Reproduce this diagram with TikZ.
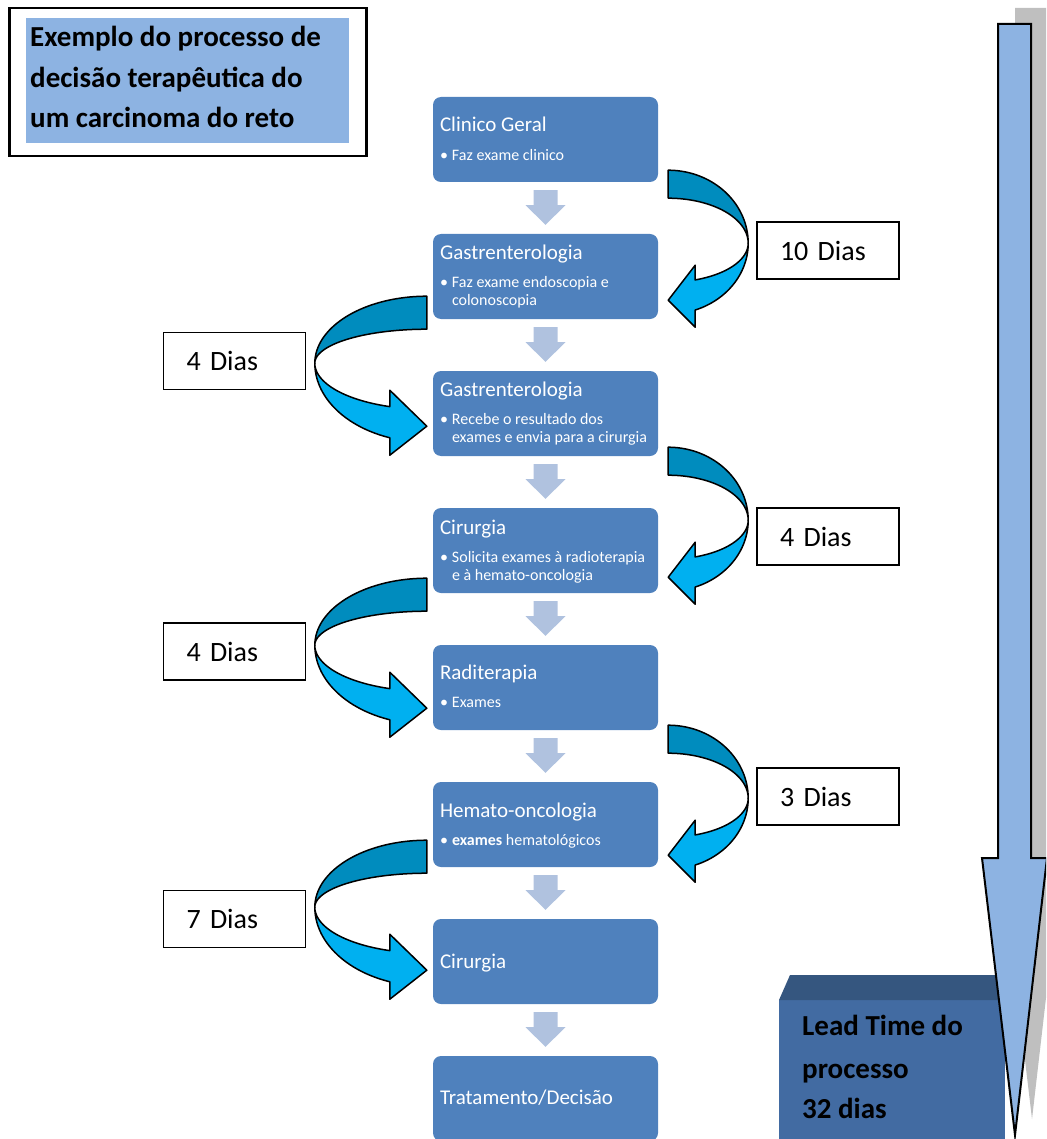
\documentclass[tikz,border=0pt]{standalone}
\usepackage{fontspec}
\setmainfont{Carlito}
\usetikzlibrary{calc}

\definecolor{boxblue}{HTML}{4F81BD}
\definecolor{paleblue}{HTML}{8DB3E2}
\definecolor{connblue}{HTML}{B0C2DF}
\definecolor{bandback}{HTML}{008CBE}
\definecolor{bandfront}{HTML}{00B0F0}
\definecolor{cubefront}{HTML}{426BA2}
\definecolor{cubetop}{HTML}{35567F}
\definecolor{shadowgray}{HTML}{BFBFBF}

\tikzset{
  proc/.style={fill=boxblue, rounded corners=8pt, minimum width=225pt,
    minimum height=85pt, inner sep=0pt},
  ptitle/.style={text=white, inner sep=0pt, anchor=base west,
    font=\fontsize{21}{25}\selectfont},
  pitem/.style={text=white, inner sep=0pt, anchor=base west,
    font=\fontsize{16}{18}\selectfont},
  daysbox/.style={draw=black, line width=1.8pt, fill=white,
    minimum width=142pt, minimum height=57pt, text width=96pt, align=left,
    inner sep=0pt, font=\fontsize{28}{34}\selectfont},
  headline/.style={inner sep=0pt, anchor=base west,
    font=\fontsize{29}{34}\selectfont\bfseries},
  band/.style={draw=black, line width=1.5pt, line join=round},
}

% block arrow between two process boxes
\newcommand{\downconn}[2]{%
  \fill[connblue] ($(#1.south)+(-12,8)$) -- ($(#1.south)+(12,8)$)
    -- ($(#1.south)+(12,23)$) -- ($(#1.south)+(20,23)$)
    -- ($(#2.north)+(0,-9)$)
    -- ($(#1.south)+(-20,23)$) -- ($(#1.south)+(-12,23)$) -- cycle;}

% curved ribbon arrow on the right side, turning back to the left
\newcommand{\loopright}[2]{%
  \begin{scope}[shift={($(#1.south east)+(10,#2)$)}]
    \filldraw[band, fill=bandback]
      plot[domain=90:0, samples=40] ({80*cos(\x)},{-73*sin(\x)})
      -- plot[domain=0:90, samples=40] ({80*cos(\x)},{-45*sin(\x)}) -- cycle;
    \filldraw[band, fill=bandfront]
      plot[domain=0:70.3, samples=40] ({80*cos(\x)},{39*sin(\x)})
      -- (27,22) -- (0,57) -- (27,84)
      -- plot[domain=70.3:0, samples=40] ({80*cos(\x)},{71*sin(\x)}) -- cycle;
  \end{scope}}

% curved ribbon arrow on the left side, turning back to the right
\newcommand{\loopleft}[2]{%
  \begin{scope}[shift={($(#1.south west)+(-6,#2)$)}]
    \filldraw[band, fill=bandback]
      plot[domain=90:0, samples=40] ({-112*cos(\x)},{-67*sin(\x)})
      -- plot[domain=0:90, samples=40] ({-112*cos(\x)},{-34*sin(\x)}) -- cycle;
    \filldraw[band, fill=bandfront]
      plot[domain=0:70.7, samples=40] ({-112*cos(\x)},{46*sin(\x)})
      -- (-37,27) -- (0,63) -- (-37,92)
      -- plot[domain=70.7:0, samples=40] ({-112*cos(\x)},{79*sin(\x)}) -- cycle;
  \end{scope}}

\begin{document}
\begin{tikzpicture}[x=1pt, y=-1pt]
  \path[use as bounding box] (0,0) rectangle (1046,1139);
  \clip (0,0) rectangle (1046,1139);

  % heading
  \node[draw=black, line width=2.5pt, minimum width=357pt, minimum height=148pt,
        anchor=north west, inner sep=0pt] (frame) at (8,7) {};
  \node[fill=paleblue, minimum width=323pt, minimum height=125pt,
        anchor=north west, inner sep=0pt] (headbg) at (26,18) {};
  \node[headline] (h1) at (30,47) {Exemplo do processo de};
  \node[headline] (h2) at (30,88) {decisão terapêutica do};
  \node[headline] (h3) at (30,128) {um carcinoma do reto};

  % process steps
  \node[proc] (b1) at (545.5,139.5) {};
  \node[proc] (b2) at (545.5,276.5) {};
  \node[proc] (b3) at (545.5,413.5) {};
  \node[proc] (b4) at (545.5,550.5) {};
  \node[proc] (b5) at (545.5,687.5) {};
  \node[proc] (b6) at (545.5,824.5) {};
  \node[proc] (b7) at (545.5,961.5) {};
  \node[proc] (b8) at (545.5,1098.5) {};

  \node[ptitle] (t1) at ($(b1.north west)+(7,35)$) {Clinico Geral};
  \node[pitem]  (i1) at ($(b1.north west)+(7,64)$) {\makebox[12pt][l]{•}Faz exame clinico};

  \node[ptitle] (t2) at ($(b2.north west)+(7,26)$) {Gastrenterologia};
  \node[pitem]  (i2a) at ($(b2.north west)+(7,54)$) {\makebox[12pt][l]{•}Faz exame endoscopia e};
  \node[pitem]  (i2b) at ($(b2.north west)+(19,72)$) {colonoscopia};

  \node[ptitle] (t3) at ($(b3.north west)+(7,26)$) {Gastrenterologia};
  \node[pitem]  (i3a) at ($(b3.north west)+(7,54)$) {\makebox[12pt][l]{•}Recebe o resultado dos};
  \node[pitem]  (i3b) at ($(b3.north west)+(19,72)$) {exames e envia para a cirurgia};

  \node[ptitle] (t4) at ($(b4.north west)+(7,27)$) {Cirurgia};
  \node[pitem]  (i4a) at ($(b4.north west)+(7,55)$) {\makebox[12pt][l]{•}Solicita exames à radioterapia};
  \node[pitem]  (i4b) at ($(b4.north west)+(19,73)$) {e à hemato-oncologia};

  \node[ptitle] (t5) at ($(b5.north west)+(7,35)$) {Raditerapia};
  \node[pitem]  (i5) at ($(b5.north west)+(7,63)$) {\makebox[12pt][l]{•}Exames};

  \node[ptitle] (t6) at ($(b6.north west)+(7,36)$) {Hemato-oncologia};
  \node[pitem]  (i6) at ($(b6.north west)+(7,64)$) {\makebox[12pt][l]{•}\textbf{exames} hematológicos};

  \node[ptitle] (t7) at ($(b7.north west)+(7,50)$) {Cirurgia};
  \node[ptitle] (t8) at ($(b8.north west)+(7,49)$) {Tratamento/Decisão};

  % flow between steps
  \downconn{b1}{b2}
  \downconn{b2}{b3}
  \downconn{b3}{b4}
  \downconn{b4}{b5}
  \downconn{b5}{b6}
  \downconn{b6}{b7}
  \downconn{b7}{b8}

  % waiting times
  \loopright{b1}{61}
  \loopleft{b2}{44}
  \loopright{b3}{64}
  \loopleft{b4}{52}
  \loopright{b5}{68}
  \loopleft{b6}{40}

  \node[daysbox] (d1) at (828,250.5) {10 Dias};
  \node[daysbox] (d2) at (234.5,361) {4 Dias};
  \node[daysbox] (d3) at (828,536.5) {4 Dias};
  \node[daysbox] (d4) at (234.5,651.5) {4 Dias};
  \node[daysbox] (d5) at (828,796.5) {3 Dias};
  \node[daysbox] (d6) at (234.5,919) {7 Dias};

  % lead time block
  \node[fill=cubefront, minimum width=226pt, minimum height=140pt,
        anchor=north west, inner sep=0pt] (lead) at (779,1000) {};
  \fill[cubetop] (lead.north west) -- ++(11,-25) -- ($(lead.north east)+(11,-25)$)
    -- (lead.north east) -- cycle;
  \node[headline] (l1) at (802,1035) {Lead Time do};
  \node[headline] (l2) at (802,1078) {processo};
  \node[headline] (l3) at (802,1118) {32 dias};

  % overall time arrow with its shadow
  \fill[shadowgray, shift={(17,-16)}] (998,24) -- (1031,24) -- (1031,858)
    -- (1047,858) -- (1015,1135) -- (982,858) -- (998,858) -- cycle;
  \filldraw[fill=paleblue, draw=black, line width=2pt, line join=miter]
    (998,24) -- (1031,24) -- (1031,858) -- (1047,858) -- (1015,1135)
    -- (982,858) -- (998,858) -- cycle;
\end{tikzpicture}
\end{document}
